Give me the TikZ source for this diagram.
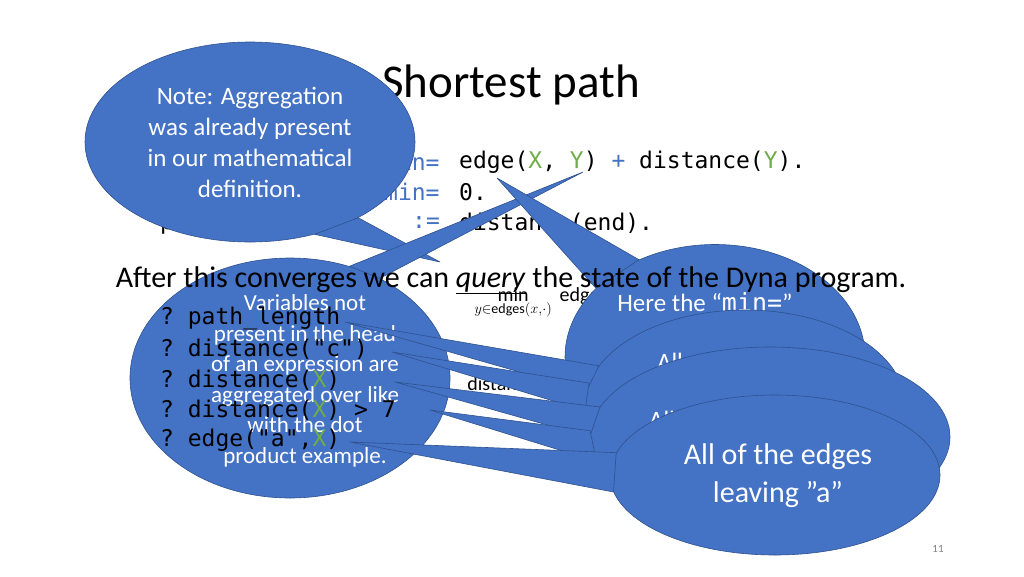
\documentclass[tikz,border=0pt]{standalone}
\usepackage{fontspec}
\setmainfont{Carlito}
\setmonofont{DejaVu Sans Mono}
\usetikzlibrary{shapes.geometric}
\definecolor{callblue}{HTML}{4472C4}
\definecolor{calledge}{HTML}{2F528F}
\definecolor{kwblue}{HTML}{4472C4}
\definecolor{vargreen}{HTML}{70AD47}
\tikzset{
  bubble/.style={ellipse,fill=callblue,draw=calledge,line width=0.6pt,inner sep=0pt},
  wedge/.style={fill=callblue,draw=calledge,line width=0.6pt,line join=round},
  bubbletext/.style={text=white,font=\fontsize{25}{31}\selectfont,align=center},
  code/.style={anchor=west,font=\fontsize{23}{26}\ttfamily,inner sep=0pt},
}
\newcommand{\kw}[1]{\textcolor{kwblue}{#1}}
\newcommand{\vr}[1]{\textcolor{vargreen}{#1}}
\newcommand{\qt}{\char"22}
\begin{document}
\begin{tikzpicture}[x=1pt,y=-1pt]
\useasboundingbox (0,0) rectangle (1024,576);
% title
\node[font=\fontsize{47}{52}\selectfont] (title) at (511,85) {Shortest path};
% program
\node[code,anchor=east] (l1) at (378,162) {distance(\vr{X})};
\node[code] (o1) at (384,162) {\kw{min=}};
\node[code] (r1) at (459,162) {edge(\vr{X}, \vr{Y}) \kw{+} distance(\vr{Y}).};
\node[code,anchor=east] (l2) at (378,192) {distance(start)};
\node[code] (o2) at (384,192) {\kw{min=}};
\node[code] (r2) at (459,192) {0.};
\node[code] (l3) at (160,223) {path\_length};
\node[code] (o3) at (412,223) {\kw{:=}};
\node[code] (r3) at (459,223) {distance(end).};
% top left note
\node[bubble,minimum width=330,minimum height=200] (note) at (250,142) {};
\fill[wedge] (note.-35) -- (440,262) -- (note.-55) -- cycle;
\node[bubbletext] (notetext) at (250,142) {Note: Aggregation\\was already present\\in our mathematical\\definition.};
% math behind
\node[font=\fontsize{20}{24}\selectfont] (math) at (560,302) {$\displaystyle\min_{y\in\mathrm{edges}(x,\cdot)}\ \mathrm{edge}(x,y)$};
\node[font=\fontsize{20}{24}\selectfont] (math2) at (505,385) {$\mathrm{distance}($};
% lower left note
\node[bubble,minimum width=320,minimum height=240] (vars) at (290,378) {};
\fill[wedge] (vars.62) -- (583,172) -- (vars.48) -- cycle;
\node[bubbletext,font=\fontsize{23}{30.5}\selectfont] (varstext) at (305,381) {Variables not\\present in the head\\of an expression are\\aggregated over like\\with the dot\\product example.};
% queries
\node[code] (q1) at (160,318) {? path\_length};
\node[code] (q2) at (160,349) {? distance(\qt c\qt)};
\node[code] (q3) at (160,380) {? distance(\vr{X})};
\node[code] (q4) at (160,410) {? distance(\vr{X}) > 7};
\node[code] (q5) at (160,440) {? edge(\qt a\qt,\vr{X})};
% right notes
\node[bubble,minimum width=300,minimum height=225] (here) at (715,357) {};
\fill[wedge] (here.150) -- (497,178) -- (here.128) -- cycle;
\node[bubbletext] (heretext) at (705,302) {Here the “\texttt{min=}”};
\node[bubble,minimum width=320,minimum height=190] (all1) at (745,405) {};
\fill[wedge] (all1.165) -- (345,322) -- (all1.175) -- cycle;
\fill[wedge] (all1.172) -- (392,352) -- (all1.182) -- cycle;
\node[bubbletext] (all1text) at (670,362) {All};
\node[bubble,minimum width=360,minimum height=180] (all2) at (770,437) {};
\fill[wedge] (all2.170) -- (395,382) -- (all2.180) -- cycle;
\fill[wedge] (all2.178) -- (430,410) -- (all2.188) -- cycle;
\node[bubbletext] (all2text) at (662,420) {All};
\node[bubble,minimum width=330,minimum height=160] (edges) at (775,475) {};
\fill[wedge] (edges.172) -- (350,442) -- (edges.186) -- cycle;
\node[bubbletext,font=\fontsize{30}{38}\selectfont] (edgestext) at (778,476) {All of the edges\\leaving \qt a\qt};
% headline on top
\node[font=\fontsize{30}{34}\selectfont] (after) at (511,280) {After this converges we can \underline{\textit{query}} the state of the Dyna program.};
\node[text=gray,font=\fontsize{11}{13}\selectfont] (page) at (938,549) {11};
\end{tikzpicture}
\end{document}
